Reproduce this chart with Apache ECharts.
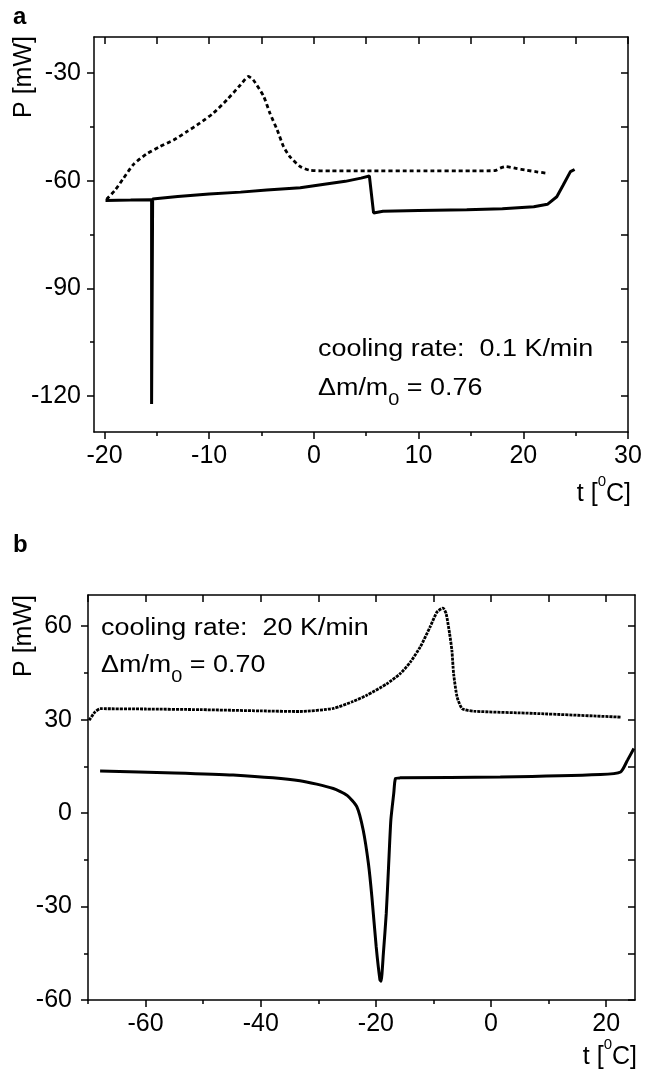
<!DOCTYPE html>
<html>
<head>
<meta charset="utf-8">
<script src="https://cdn.jsdelivr.net/npm/echarts@6/dist/echarts.min.js"></script>
<style>
html, body { margin: 0; padding: 0; background: #fff; }
#chart { width: 645px; height: 1073px; }
</style>
</head>
<body>
<div id="chart"></div>
<script>
// panel a - cooling rate 0.1 K/min
var aTicksX = [-20, -10, 0, 10, 20, 30];
var aMinorX = [-15, -5, 5, 15, 25];
var aTicksY = [-30, -60, -90, -120];
var aMinorY = [-45, -75, -105];

var aSolidT = [-19.9, -17.5, -15.5, -15.5, -15.4, -13, -10, -7, -4.5, -1.3, 1, 3, 4.5, 5.3, 5.7, 6.6, 10, 14.6, 18, 21, 22.3, 23.2, 23.8, 24.5, 24.9];
var aSolidP = [-65.5, -65.4, -65.3, -122.2, -65.1, -64.4, -63.7, -63.2, -62.6, -62.0, -61.0, -60.2, -59.3, -58.7, -69.0, -68.5, -68.3, -68.1, -67.8, -67.3, -66.6, -64.5, -61.3, -57.5, -56.9];

var aDotT = [-19.8, -19.0, -18.2, -17.2, -16.0, -14.7, -13.4, -12.1, -10.9, -9.6, -8.3, -7.0, -6.25, -5.8, -4.8, -4.2, -3.5, -2.9, -2.3, -1.3, -0.4, 1.6, 5, 10, 15, 17.3, 17.8, 18.3, 19.3, 20.3, 21.4, 22.4];
var aDotP = [-65.2, -62.7, -59.4, -55.4, -52.6, -50.5, -48.7, -46.3, -44.0, -41.2, -37.5, -33.3, -31.0, -31.9, -36.5, -41.2, -45.9, -50.5, -53.3, -56.1, -57.1, -57.3, -57.3, -57.3, -57.3, -57.2, -56.5, -56.1, -56.6, -57.1, -57.6, -58.0];

// panel b - cooling rate 20 K/min
var bTicksX = [-60, -40, -20, 0, 20];
var bMinorX = [-70, -50, -30, -10, 10];
var bTicksY = [60, 30, 0, -30, -60];
var bMinorY = [45, 15, -15, -45];

var bDotT = [-69.8, -68.8, -67.9, -60, -50.5, -40, -33.2, -27.4, -24, -21.6, -18.1, -15.8, -14.0, -12.3, -10.6, -9.4, -8.35, -7.8, -7.2, -6.8, -6.5, -5.9, -5.0, -3.0, 7.4, 22.5];
var bDotP = [29.8, 32.4, 33.5, 33.4, 33.2, 32.8, 32.6, 33.6, 35.8, 37.8, 41.5, 44.7, 48.5, 53.3, 59.7, 64.5, 65.8, 64.0, 57.6, 52.2, 44.7, 37.3, 33.5, 32.7, 32.0, 30.8];

var bSolidT = [-67.9, -55, -44.8, -33.2, -27.4, -25, -23.3, -22.2, -21.3, -20.7, -19.95, -19.3, -19.1, -18.7, -18.2, -17.8, -17.4, -16.9, -16.6, -15.8, 1.6, 19, 22.5, 23.7, 24.8];
var bSolidP = [13.5, 12.9, 12.2, 10.4, 7.9, 5.7, 2.0, -5.5, -16.2, -26.8, -42.9, -53.5, -54.0, -45.0, -32.2, -17.2, -2.2, 6.3, 11.1, 11.3, 11.6, 12.4, 13.2, 17.0, 20.7];

var FONT = '"Liberation Sans", Arial, sans-serif';
var BLACK = '#000';

function pairs(xs, ys) {
    return xs.map(function (x, i) { return [x, ys[i]]; });
}

// main axis (labels + long ticks out), minor ticks axis, mirrored axis (ticks in)
function axesFor(dim, g, min, max, major, minor, margin) {
    var side = dim === 'x' ? 'bottom' : 'left';
    var other = dim === 'x' ? 'top' : 'right';
    var line = { color: BLACK, width: 1.5 };
    var base = { type: 'value', gridIndex: g, min: min, max: max, splitLine: { show: false }, silent: true };
    return [
        Object.assign({}, base, {
            position: side,
            axisLine: { show: true, onZero: false, lineStyle: line },
            axisTick: { show: true, inside: false, length: 7, customValues: major, lineStyle: line },
            axisLabel: { show: true, customValues: major, margin: margin, color: BLACK, fontSize: 25, fontFamily: FONT }
        }),
        Object.assign({}, base, {
            position: side,
            axisLine: { show: false, onZero: false },
            axisTick: { show: true, inside: false, length: 4, customValues: minor, lineStyle: line },
            axisLabel: { show: false }
        }),
        Object.assign({}, base, {
            position: other,
            axisLine: { show: true, onZero: false, lineStyle: line },
            axisTick: { show: true, inside: true, length: 7, customValues: major.concat(minor), lineStyle: line },
            axisLabel: { show: false }
        })
    ];
}

function txt(x, y, text, extra, styleExtra) {
    return Object.assign({ type: 'text', x: x, y: y, silent: true, style: Object.assign({
        text: text, fill: BLACK, fontSize: 25, fontFamily: FONT, align: 'left', verticalAlign: 'middle'
    }, styleExtra || {}) }, extra || {});
}

var supRich = {
    m: { fontSize: 25, fontFamily: FONT, lineHeight: 40, fill: BLACK },
    s: { fontSize: 15, fontFamily: FONT, lineHeight: 21, verticalAlign: 'top', fill: BLACK }
};
var subRich = {
    m: { fontSize: 23, fontFamily: FONT, lineHeight: 40, fill: BLACK },
    s: { fontSize: 17, fontFamily: FONT, lineHeight: 15, verticalAlign: 'bottom', fill: BLACK }
};

var chart = echarts.init(document.getElementById('chart'), null, { renderer: 'canvas' });

chart.setOption({
    animation: false,
    backgroundColor: '#fff',
    grid: [
        { left: 94, top: 37, width: 534, height: 395, containLabel: false, outerBoundsMode: 'none' },
        { left: 88, top: 595, width: 547, height: 405, containLabel: false, outerBoundsMode: 'none' }
    ],
    xAxis: [].concat(
        axesFor('x', 0, -21, 30, aTicksX, aMinorX, 12),
        axesFor('x', 1, -70, 25, bTicksX, bMinorX, 12)
    ),
    yAxis: [].concat(
        axesFor('y', 0, -130, -20, aTicksY, aMinorY, 13),
        axesFor('y', 1, -60, 70, bTicksY, bMinorY, 16)
    ),
    series: [
        {
            type: 'line', xAxisIndex: 0, yAxisIndex: 0, data: pairs(aSolidT, aSolidP),
            symbol: 'none', smooth: false, silent: true,
            lineStyle: { color: BLACK, width: 3 }
        },
        {
            type: 'line', xAxisIndex: 0, yAxisIndex: 0, data: pairs(aDotT, aDotP),
            symbol: 'none', smooth: 0.2, silent: true,
            lineStyle: { color: BLACK, width: 2.8, type: [4, 3] }
        },
        {
            type: 'line', xAxisIndex: 3, yAxisIndex: 3, data: pairs(bSolidT, bSolidP),
            symbol: 'none', smooth: 0.2, silent: true,
            lineStyle: { color: BLACK, width: 3 }
        },
        {
            type: 'line', xAxisIndex: 3, yAxisIndex: 3, data: pairs(bDotT, bDotP),
            symbol: 'none', smooth: 0.2, silent: true,
            lineStyle: { color: BLACK, width: 2.8, type: [3, 1] }
        }
    ],
    graphic: [
        txt(13, 17, 'a', null, { fontSize: 24, fontWeight: 'bold' }),
        txt(13, 545, 'b', null, { fontSize: 24, fontWeight: 'bold' }),
        txt(24, 77, 'P [mW]', { rotation: Math.PI / 2 }, { align: 'center' }),
        txt(24, 636, 'P [mW]', { rotation: Math.PI / 2 }, { align: 'center' }),
        txt(631, 494, '{m|t [}{s|0}{m|C]}', null, { align: 'right', rich: supRich }),
        txt(637, 1057, '{m|t [}{s|0}{m|C]}', null, { align: 'right', rich: supRich }),
        txt(318, 350, 'cooling rate:  0.1 K/min', { scaleX: 1.17 }, { fontSize: 23 }),
        txt(318, 389, '{m|\u0394m/m}{s|0}{m| = 0.76}', { scaleX: 1.17 }, { rich: subRich }),
        txt(101, 629, 'cooling rate:  20 K/min', { scaleX: 1.17 }, { fontSize: 23 }),
        txt(101, 666, '{m|\u0394m/m}{s|0}{m| = 0.70}', { scaleX: 1.17 }, { rich: subRich })
    ]
});
</script>
</body>
</html>
